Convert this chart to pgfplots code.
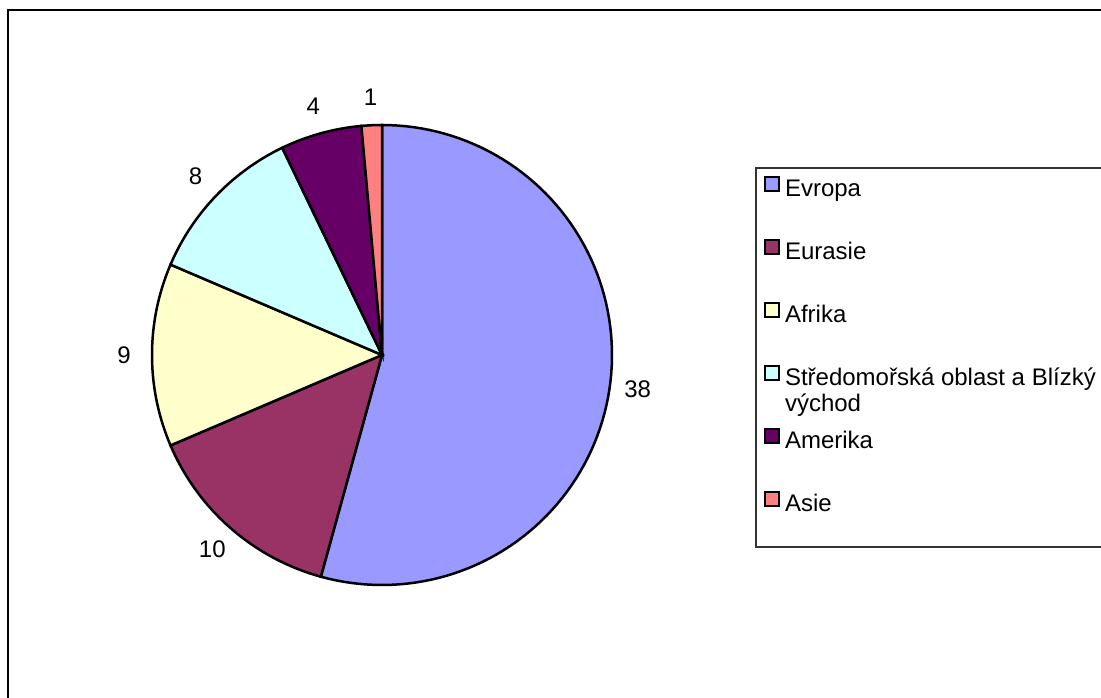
\documentclass[border=0pt]{standalone}
\usepackage{pgfplots}
\pgfplotsset{compat=1.18}
\usepackage{pgfplotstable}
\usepackage{fontspec}
\setmainfont{Liberation Sans}
\definecolor{slice0}{HTML}{9999FF}
\definecolor{slice1}{HTML}{993366}
\definecolor{slice2}{HTML}{FFFFCC}
\definecolor{slice3}{HTML}{CCFFFF}
\definecolor{slice4}{HTML}{660066}
\definecolor{slice5}{HTML}{FF8080}
\pgfplotstableread{
region value
Evropa 38
Eurasie 10
Afrika 9
Stredomori 8
Amerika 4
Asie 1
}\piedata
\begin{document}
\begin{tikzpicture}[font=\fontsize{12}{13}\selectfont]
\path[use as bounding box] (0,0) rectangle (550.5pt,348.5pt);%
\def\pietotal{0}%
\pgfplotsforeachungrouped \i in {0,...,5}{%
  \pgfplotstablegetelem{\i}{value}\of\piedata
  \pgfmathsetmacro\pietotal{\pietotal+\pgfplotsretval}%
}%
\def\cum{0}%
\pgfplotsforeachungrouped \i in {0,...,5}{%
  \pgfplotstablegetelem{\i}{value}\of\piedata
  \let\v\pgfplotsretval
  \pgfmathsetmacro\a{90-(\cum/\pietotal)*360}%
  \pgfmathsetmacro\cum{\cum+\v}%
  \pgfmathsetmacro\b{90-(\cum/\pietotal)*360}%
  \pgfmathsetmacro\m{(\a+\b)/2}%
  \expandafter\xdef\csname pieA\i\endcsname{\a}%
  \expandafter\xdef\csname pieB\i\endcsname{\b}%
  \expandafter\xdef\csname pieM\i\endcsname{\m}%
  \expandafter\xdef\csname pieV\i\endcsname{\v}%
}%
\begin{axis}[
  at={(0,0)}, anchor=south west,
  scale only axis, width=550.5pt, height=348.5pt,
  xmin=0, xmax=1101, ymin=0, ymax=697,
  hide axis, clip=false,
  legend image code/.code={\draw[#1, line width=1pt] (0pt,0pt) rectangle (7pt,7pt);},
  legend style={at={(axis cs:764,521)}, anchor=north west, draw=none, fill=none,
    inner sep=0pt, outer sep=0pt, row sep=18.7pt, column sep=2.5pt,
    nodes={inner sep=0pt, text height=8pt, text depth=2.5pt},
    font=\fontsize{12}{13}\selectfont},
  legend cell align=left,
]
\draw[line width=0.9pt] (axis cs:8,-20) -- (axis cs:8,687) -- (axis cs:1130,687);
\draw[line width=0.7pt, black!80] (axis cs:1130,529) -- (axis cs:756,529) -- (axis cs:756,150) -- (axis cs:1130,150);
\pgfplotsinvokeforeach{0,...,5}{%
  \addplot[draw=black, line width=1.25pt, fill=slice#1, samples=100, variable=\t,
    domain=\csname pieB#1\endcsname:\csname pieA#1\endcsname]
    ({382+230*cos(\t)},{342+230*sin(\t)}) -- (axis cs:382,342) -- cycle;
  \node at (axis cs:{382+258*cos(\csname pieM#1\endcsname)},{342+258*sin(\csname pieM#1\endcsname)}) {\csname pieV#1\endcsname};
}
\legend{Evropa, Eurasie, Afrika, {\vtop{\hbox{Středomořská oblast a Blízký}\hbox{východ}}}, Amerika, Asie}
\end{axis}
\end{tikzpicture}
\end{document}
